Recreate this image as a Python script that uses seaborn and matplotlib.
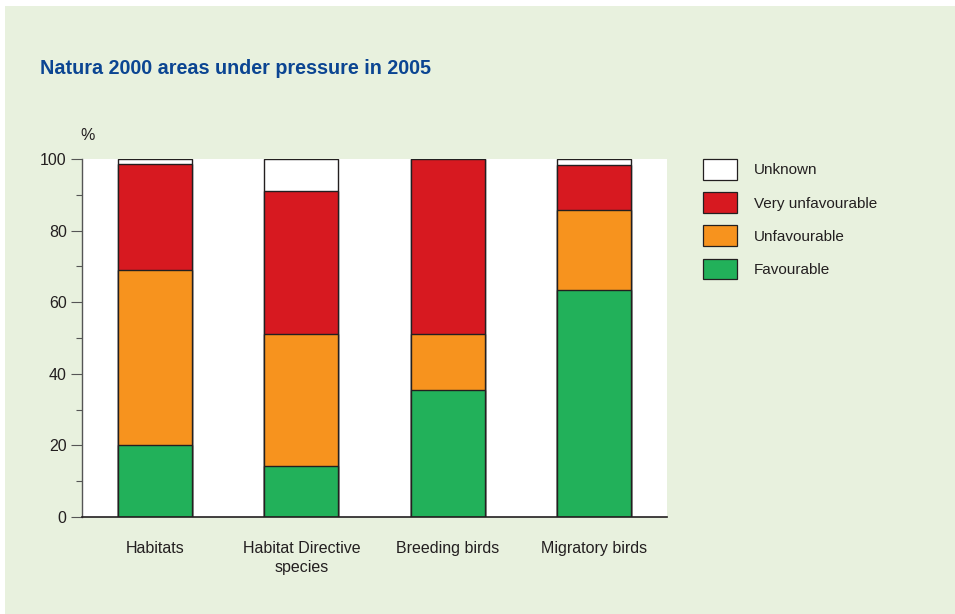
import numpy as np
import pandas as pd
import matplotlib
matplotlib.use("Agg")
import matplotlib.pyplot as plt
from matplotlib.patches import Patch, Rectangle
import seaborn as sns

categories = ["Habitats", "Habitat Directive\nspecies", "Breeding birds", "Migratory birds"]
favourable = [20.2, 14.3, 35.5, 63.4]
unfavourable = [48.7, 36.9, 15.5, 22.3]
very_unfavourable = [29.6, 40.0, 49.0, 12.6]
unknown = [1.5, 8.8, 0.0, 1.7]
series_names = ["Favourable", "Unfavourable", "Very unfavourable", "Unknown"]
colors = {"Favourable": "#22B15A", "Unfavourable": "#F7931E",
          "Very unfavourable": "#D71920", "Unknown": "#FFFFFF"}
yticks = [0, 20, 40, 60, 80, 100]

sns.set_theme(style="white")
plt.rcParams["font.family"] = ["Liberation Sans Narrow", "Liberation Sans", "DejaVu Sans"]

bg = "#E8F1DE"
fig = plt.figure(figsize=(9.55, 6.14), dpi=100, facecolor="white")
fig.patches.append(Rectangle((5 / 955, 0), 1, 1 - 6 / 614, transform=fig.transFigure,
                             facecolor=bg, edgecolor="none", zorder=-10))
ax = fig.add_axes([82 / 955, (614 - 517) / 614, (667 - 82) / 955, (517 - 159) / 614])
ax.set_facecolor("white")

df = pd.DataFrame({"category": categories, "Favourable": favourable,
                   "Unfavourable": unfavourable, "Very unfavourable": very_unfavourable,
                   "Unknown": unknown})
cum = df[series_names].cumsum(axis=1)

for name in reversed(series_names):
    sns.barplot(x=df["category"], y=cum[name], color=colors[name], width=0.505,
                edgecolor="#231F20", linewidth=1.0, ax=ax, saturation=1, zorder=2)

ax.set_ylim(0, 100)
ax.set_xlim(-0.5, 3.5)
ax.set_yticks(yticks)
ax.set_yticks([10, 30, 50, 70, 90], minor=True)
ax.tick_params(axis="y", which="major", left=True, length=8, width=0.8, color="#555555",
               labelsize=11.5, labelcolor="#231F20", pad=3)
ax.tick_params(axis="y", which="minor", left=True, length=4, width=0.8, color="#555555")
ax.tick_params(axis="x", bottom=False, labelsize=11.5, labelcolor="#231F20", pad=11)
for t in ax.get_xticklabels():
    t.set_linespacing(1.35)
ax.set_xlabel("")
ax.set_ylabel("")
for s in ["top", "right"]:
    ax.spines[s].set_visible(False)
ax.spines["left"].set_color("#555555")
ax.spines["left"].set_linewidth(1.0)
ax.spines["bottom"].set_color("#231F20")
ax.spines["bottom"].set_linewidth(1.2)

fig.text(40 / 955, 1 - 68 / 614, "Natura 2000 areas under pressure in 2005",
         fontsize=14.2, fontweight="bold", color="#0B4592", va="center", ha="left")
fig.text(88 / 955, 1 - 135 / 614, "%", fontsize=11.5, color="#231F20", va="center", ha="center")

handles = [Patch(facecolor=colors[n], edgecolor="#231F20", linewidth=0.9, label=n)
           for n in reversed(series_names)]
leg = fig.legend(handles=handles, loc="upper left", bbox_to_anchor=(697 / 955, 1 - 153 / 614),
                 frameon=False, fontsize=11, handlelength=2.22, handleheight=1.7,
                 labelspacing=0.82, handletextpad=1.1, borderaxespad=0)
for t in leg.get_texts():
    t.set_color("#231F20")

fig.savefig("out.png", dpi=100, facecolor="white")
